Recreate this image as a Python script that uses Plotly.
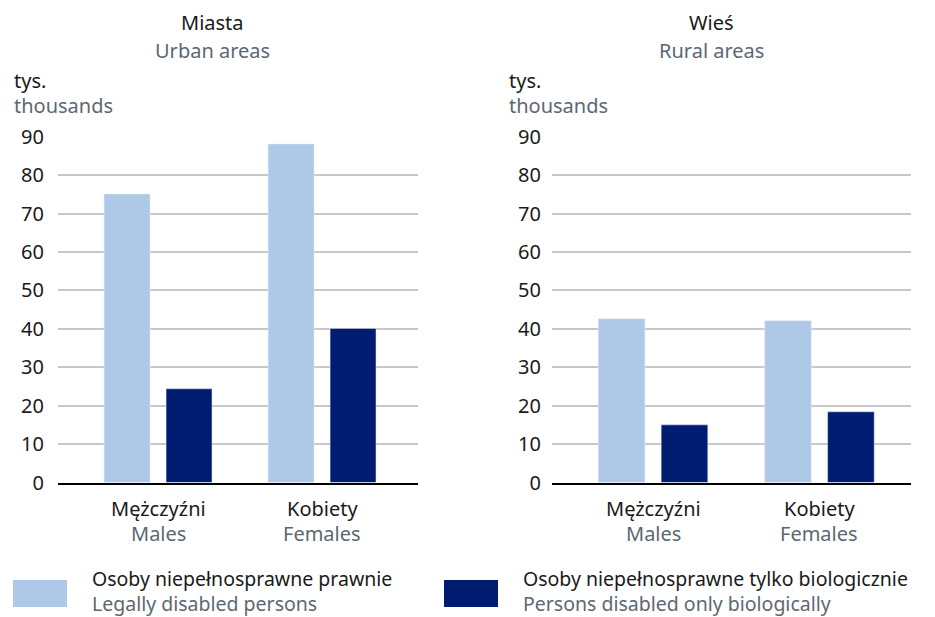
import plotly.graph_objects as go

W, H = 935, 617

# Categories and series (thousands of persons)
categories_pl = ["Mężczyźni", "Kobiety"]
categories_en = ["Males", "Females"]
series_pl = ["Osoby niepełnosprawne prawnie", "Osoby niepełnosprawne tylko biologicznie"]
series_en = ["Legally disabled persons", "Persons disabled only biologically"]

urban_legal = [75.1, 88.1]
urban_bio = [24.4, 40.1]
rural_legal = [42.6, 42.1]
rural_bio = [15.0, 18.4]

y_ticks = [0, 10, 20, 30, 40, 50, 60, 70, 80, 90]

LIGHT = "#AEC8E8"
DARK = "#001C70"
TXT = "#1a1a1a"
GRAY = "#5d6772"
FONT = "Noto Sans"
FS = 20


def px_x(p):
    return p / W


def px_y(p):
    return (H - p) / H


fig = go.Figure()
xs = list(range(len(categories_pl)))
for xa, ya, legal, bio in [("x", "y", urban_legal, urban_bio), ("x2", "y2", rural_legal, rural_bio)]:
    fig.add_trace(go.Bar(x=xs, y=legal, name=series_pl[0], marker_color=LIGHT,
                         xaxis=xa, yaxis=ya, showlegend=False))
    fig.add_trace(go.Bar(x=xs, y=bio, name=series_pl[1], marker_color=DARK,
                         xaxis=xa, yaxis=ya, showlegend=False))

ydom = [px_y(482.5), px_y(136.7)]
yax = dict(domain=ydom, range=[0, 90], tickvals=y_ticks, showgrid=True,
           gridcolor="#c8c8c8", gridwidth=1.5, zeroline=False, showline=False,
           automargin=False,
           tickfont=dict(family=FONT, size=FS, color=TXT))
xax = dict(showticklabels=False, showgrid=False, zeroline=False, showline=True,
           automargin=False,
           linecolor="#000000", linewidth=2, ticks="")

fig.update_layout(
    width=W, height=H, autosize=False,
    margin=dict(l=0, r=0, t=0, b=0, pad=0, autoexpand=False),
    paper_bgcolor="white", plot_bgcolor="white",
    barmode="group", bargap=0.244, bargroupgap=0.259,
    xaxis=dict(xax, domain=[px_x(58), px_x(418)], range=[-0.61, 1.585], anchor="y"),
    yaxis=dict(yax, anchor="x", ticklabelstandoff=13),
    xaxis2=dict(xax, domain=[px_x(552), px_x(911)], range=[-0.607, 1.55], anchor="y2"),
    yaxis2=dict(yax, anchor="x2", ticklabelstandoff=10),
)

ann = []


def text(x, y, s, color, xanchor="center", xref="paper", yref="paper", size=FS):
    ann.append(dict(x=x, y=y, text=s, xref=xref, yref=yref, showarrow=False,
                    xanchor=xanchor, yanchor="middle", align="left",
                    font=dict(family=FONT, size=size, color=color)))


# Panel titles
text(px_x(212), px_y(23), "Miasta", TXT)
text(px_x(212), px_y(50), "Urban areas", GRAY)
text(px_x(711), px_y(23), "Wieś", TXT)
text(px_x(711), px_y(50), "Rural areas", GRAY)

# Unit labels
for x0 in (12, 507):
    text(px_x(x0), px_y(80), "tys.", TXT, xanchor="left")
    text(px_x(x0), px_y(105), "thousands", GRAY, xanchor="left")

# Category labels under each panel
for xref in ("x", "x2"):
    for i, (pl, en) in enumerate(zip(categories_pl, categories_en)):
        text(i, px_y(508), pl, TXT, xref=xref)
        text(i, px_y(533), en, GRAY, xref=xref)

# Legend swatches and two-line labels
shapes = []
for (x0, col), pl, en in zip([(13, LIGHT), (444, DARK)], series_pl, series_en):
    shapes.append(dict(type="rect", xref="paper", yref="paper",
                       x0=px_x(x0), x1=px_x(x0 + 54), y0=px_y(607), y1=px_y(580),
                       fillcolor=col, line=dict(width=0)))
    text(px_x(x0 + 77), px_y(591),
         f"{pl}<br><span style='color:{GRAY}'>{en}</span>",
         TXT, xanchor="left", size=19.5)

fig.update_layout(annotations=ann, shapes=shapes)
fig.write_html("out.html")
